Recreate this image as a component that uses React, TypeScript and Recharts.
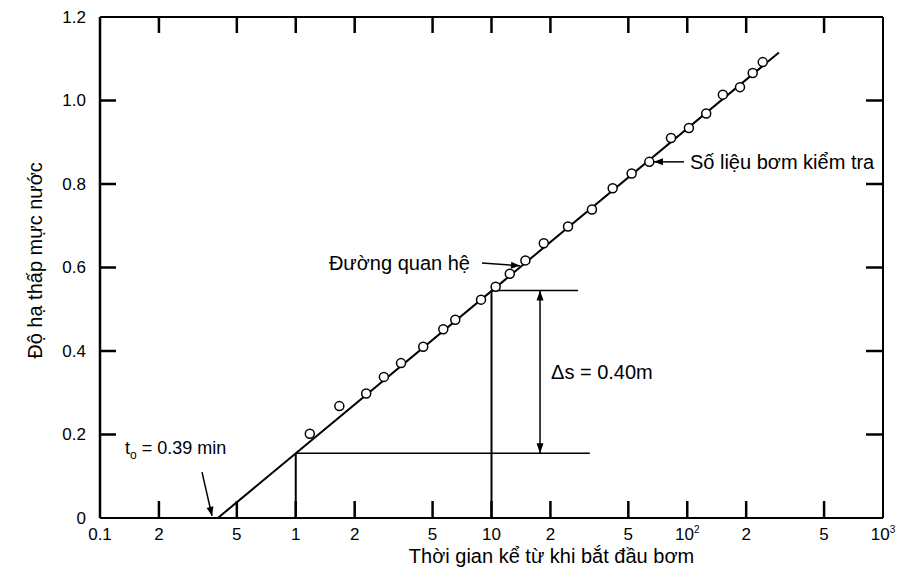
import React from "react";
import {
  ComposedChart,
  Scatter,
  XAxis,
  YAxis,
  ReferenceLine,
  Label,
} from "recharts";

// số liệu bơm kiểm tra: thời gian (phút) và độ hạ thấp (m)
const timeMin = [
  1.18, 1.67, 2.29, 2.82, 3.45, 4.48, 5.67, 6.53, 8.84, 10.5, 12.4, 14.9, 18.5,
  24.6, 32.6, 41.6, 52.0, 64.0, 82.6, 102, 125, 152, 186, 216, 243,
];
const drawdown = [
  0.202, 0.268, 0.298, 0.338, 0.371, 0.41, 0.452, 0.475, 0.523, 0.554, 0.585,
  0.617, 0.658, 0.698, 0.739, 0.79, 0.825, 0.853, 0.91, 0.934, 0.969, 1.014,
  1.032, 1.066, 1.092,
];

// đường quan hệ (hai đầu mút)
const fitTime = [0.4, 294];
const fitDrawdown = [0, 1.115];

const xTicks = [0.1, 0.2, 0.5, 1, 2, 5, 10, 20, 50, 100, 200, 500, 1000];
const xTickLabels = ["0.1", "2", "5", "1", "2", "5", "10", "2", "5", "10²", "2", "5", "10³"];
const yTicks = [0, 0.2, 0.4, 0.6, 0.8, 1.0, 1.2];
const yTickLabels = ["0", "0.2", "0.4", "0.6", "0.8", "1.0", "1.2"];

// dựng hình Δs trong một chu kỳ log
const s1 = 0.155; // tại t = 1 min
const s10 = 0.545; // tại t = 10 min
const lowerEnd = 31.8;
const upperEnd = 27.7;
const deltaAt = 17.7;

const X_MIN = xTicks[0];
const X_MAX = xTicks[xTicks.length - 1];
const Y_MIN = yTicks[0];
const Y_MAX = yTicks[yTicks.length - 1];

const points = timeMin.map((t, i) => ({ t, s: drawdown[i] }));
const fitLine = fitTime.map((t, i) => ({ t, s: fitDrawdown[i] }));

// vị trí các vạch chia trên bốn cạnh khung
const innerX = xTicks.slice(1, -1);
const innerY = yTicks.slice(1, -1);
const bottomMarks = innerX.map((t) => ({ t, s: Y_MIN }));
const topMarks = innerX.map((t) => ({ t, s: Y_MAX }));
const leftMarks = innerY.map((s) => ({ t: X_MIN, s }));
const rightMarks = innerY.map((s) => ({ t: X_MAX, s }));

const FONT = "'Liberation Sans', Arial, Helvetica, sans-serif";

function arrowHead(x1: number, y1: number, x2: number, y2: number, len = 9, half = 3.5) {
  const a = Math.atan2(y2 - y1, x2 - x1);
  const bx = x2 - len * Math.cos(a);
  const by = y2 - len * Math.sin(a);
  const px = -Math.sin(a) * half;
  const py = Math.cos(a) * half;
  return `${x2},${y2} ${bx + px},${by + py} ${bx - px},${by - py}`;
}

const pointer =
  (label: React.ReactNode, dx: number, dy: number, anchor: "start" | "end", fontSize = 20) =>
  (p: any) => {
    const { x1, y1, x2, y2 } = p;
    return (
      <g>
        <line x1={x1} y1={y1} x2={x2} y2={y2} stroke="#000" strokeWidth={1.5} />
        <polygon points={arrowHead(x1, y1, x2, y2)} fill="#000" />
        <text x={x1 + dx} y={y1 + dy} textAnchor={anchor} fontSize={fontSize} fill="#000">
          {label}
        </text>
      </g>
    );
  };

const doubleArrow = (label: string) => (p: any) => {
  const { x1, y1, x2, y2 } = p;
  return (
    <g>
      <line x1={x1} y1={y1} x2={x2} y2={y2} stroke="#000" strokeWidth={1.5} />
      <polygon points={arrowHead(x1, y1, x2, y2, 10, 3.5)} fill="#000" />
      <polygon points={arrowHead(x2, y2, x1, y1, 10, 3.5)} fill="#000" />
      <text x={x1 + 11} y={(y1 + y2) / 2 + 7} fontSize={20} fill="#000">
        {label}
      </text>
    </g>
  );
};

const mark = (dx: number, dy: number) => (p: any) => (
  <line
    x1={p.cx}
    y1={p.cy}
    x2={p.cx + dx}
    y2={p.cy + dy}
    stroke="#000"
    strokeWidth={2.5}
  />
);

const XTick = (props: any) => {
  const { x, y, payload } = props;
  const i = xTicks.indexOf(payload.value);
  const label = i >= 0 ? xTickLabels[i] : String(payload.value);
  const sup = label.endsWith("²") ? "2" : label.endsWith("³") ? "3" : null;
  return (
    <text x={x} y={y} dy="0.71em" textAnchor="middle" fontSize={17} fill="#000">
      {sup ? (
        <>
          <tspan>{label.slice(0, -1)}</tspan>
          <tspan dy={-7} fontSize={10}>
            {sup}
          </tspan>
        </>
      ) : (
        label
      )}
    </text>
  );
};

const YTick = (props: any) => {
  const { x, y, payload } = props;
  const i = yTicks.indexOf(payload.value);
  return (
    <text x={x} y={y} dy="0.35em" textAnchor="end" fontSize={17} fill="#000">
      {i >= 0 ? yTickLabels[i] : payload.value}
    </text>
  );
};

const dot = (p: any) => (
  <circle cx={p.cx} cy={p.cy} r={4.5} fill="#fff" stroke="#000" strokeWidth={1.5} />
);

const segLine = { stroke: "#000", strokeWidth: 1.5 };

export default function App() {
  return (
    <div
      style={{
        position: "absolute",
        left: 0,
        top: 0,
        width: 904,
        height: 574,
        background: "#fff",
        fontFamily: FONT,
      }}
    >
      <ComposedChart
        width={904}
        height={574}
        margin={{ top: 16, right: 20, bottom: 0, left: 0 }}
      >
        <XAxis
          dataKey="t"
          type="number"
          scale="log"
          domain={[X_MIN, X_MAX]}
          ticks={xTicks}
          interval={0}
          height={56}
          tickSize={0}
          tickMargin={10}
          tickLine={false}
          tick={<XTick />}
          axisLine={{ stroke: "#000", strokeWidth: 2 }}
        >
          <Label
            content={(lp: any) => {
              const vb = lp.viewBox;
              return (
                <text
                  x={vb.x + vb.width / 2 + 60}
                  y={vb.y + 45}
                  textAnchor="middle"
                  fontSize={20}
                  fill="#000"
                >
                  Thời gian kể từ khi bắt đầu bơm
                </text>
              );
            }}
          />
        </XAxis>
        <XAxis
          xAxisId="top"
          orientation="top"
          type="number"
          scale="log"
          domain={[X_MIN, X_MAX]}
          ticks={xTicks}
          height={1}
          tick={false}
          tickLine={false}
          axisLine={{ stroke: "#000", strokeWidth: 2 }}
        />
        <YAxis
          dataKey="s"
          type="number"
          domain={[Y_MIN, Y_MAX]}
          ticks={yTicks}
          interval={0}
          width={100}
          tickSize={0}
          tickMargin={14}
          tickLine={false}
          tick={<YTick />}
          axisLine={{ stroke: "#000", strokeWidth: 2.5 }}
        >
          <Label
            content={(lp: any) => {
              const vb = lp.viewBox;
              const cx = vb.x + 42;
              const cy = vb.y + vb.height / 2 - 7;
              return (
                <text
                  x={cx}
                  y={cy}
                  textAnchor="middle"
                  fontSize={20}
                  fill="#000"
                  transform={`rotate(-90, ${cx}, ${cy})`}
                >
                  Độ hạ thấp mực nước
                </text>
              );
            }}
          />
        </YAxis>
        <YAxis
          yAxisId="right"
          orientation="right"
          type="number"
          domain={[Y_MIN, Y_MAX]}
          ticks={yTicks}
          width={1}
          tick={false}
          tickLine={false}
          axisLine={{ stroke: "#000", strokeWidth: 2 }}
        />

        {/* dựng hình */}
        <ReferenceLine segment={[{ x: 1, y: 0 }, { x: 1, y: s1 }]} {...segLine} strokeWidth={2} />
        <ReferenceLine segment={[{ x: 1, y: s1 }, { x: lowerEnd, y: s1 }]} {...segLine} />
        <ReferenceLine segment={[{ x: 10, y: 0 }, { x: 10, y: s10 }]} {...segLine} strokeWidth={2} />
        <ReferenceLine segment={[{ x: 10, y: s10 }, { x: upperEnd, y: s10 }]} {...segLine} />
        <ReferenceLine
          segment={[{ x: deltaAt, y: s10 }, { x: deltaAt, y: s1 }]}
          shape={doubleArrow("Δs = 0.40m")}
        />

        {/* chú thích */}
        <ReferenceLine
          segment={[{ x: 0.332, y: 0.11 }, { x: 0.3735, y: 0.005 }]}
          shape={pointer(
            <>
              <tspan>t</tspan>
              <tspan dy={5} fontSize={12}>
                o
              </tspan>
              <tspan dy={-5}> = 0.39 min</tspan>
            </>,
            -77,
            -18,
            "start",
            18
          )}
        />
        <ReferenceLine
          segment={[{ x: 8.94, y: 0.611 }, { x: 13.98, y: 0.604 }]}
          shape={pointer("Đường quan hệ", -12, 7, "end")}
        />
        <ReferenceLine
          segment={[{ x: 96.2, y: 0.853 }, { x: 67.6, y: 0.853 }]}
          shape={pointer("Số liệu bơm kiểm tra", 6, 7, "start")}
        />

        <Scatter
          data={fitLine}
          line={{ stroke: "#000", strokeWidth: 2 }}
          shape={() => <g />}
          legendType="none"
          isAnimationActive={false}
        />
        <Scatter data={points} shape={dot} legendType="none" isAnimationActive={false} />

        {/* vạch chia hướng vào trong khung */}
        <Scatter data={bottomMarks} shape={mark(0, -17)} legendType="none" isAnimationActive={false} />
        <Scatter data={topMarks} shape={mark(0, 16)} legendType="none" isAnimationActive={false} />
        <Scatter data={leftMarks} shape={mark(16, 0)} legendType="none" isAnimationActive={false} />
        <Scatter data={rightMarks} shape={mark(-17, 0)} legendType="none" isAnimationActive={false} />
      </ComposedChart>
    </div>
  );
}
